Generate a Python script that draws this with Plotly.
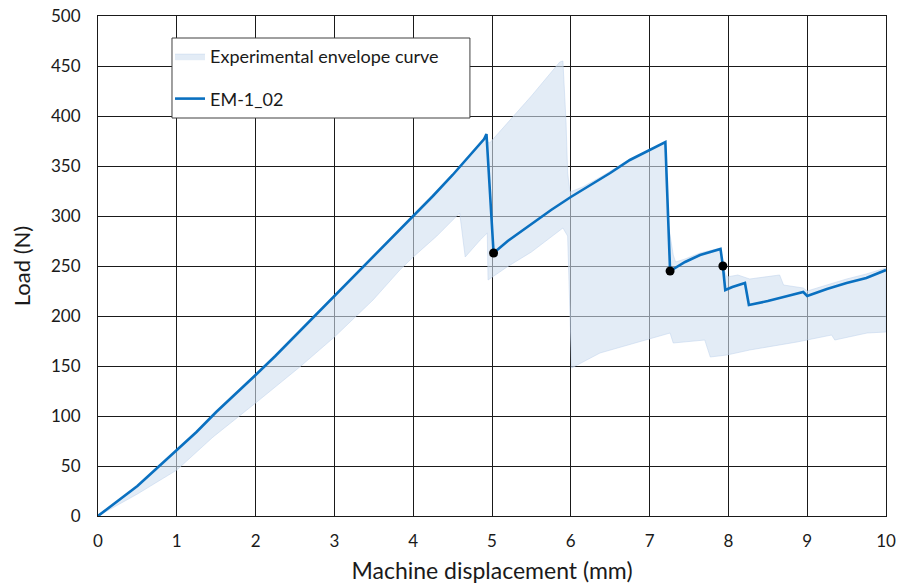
import plotly.graph_objects as go

# Main test curve EM-1_02
line_x = [0, 0.25, 0.5, 0.75, 1.0, 1.25, 1.5, 1.75, 2.0, 2.25, 2.5, 2.75, 3.0, 3.25, 3.5, 3.75,
          4.0, 4.25, 4.5, 4.75, 4.9, 4.93, 5.02, 5.2, 5.5, 5.75, 6.0, 6.25, 6.5, 6.75, 7.0, 7.2,
          7.26, 7.45, 7.64, 7.9, 7.93, 7.96, 8.05, 8.21, 8.26, 8.5, 8.75, 8.95, 9.0, 9.25, 9.5,
          9.75, 10.0]
line_y = [0, 15, 30, 48, 66, 84, 104, 122, 141, 160, 180, 200, 219, 240, 259, 280,
          300, 320, 341, 363, 377, 382, 263, 275, 292, 306, 319, 331, 343, 356, 366, 374,
          245, 254, 261, 267, 250, 226, 229, 233, 211, 215, 220, 224, 220, 227, 233,
          238, 246]

# Experimental envelope: upper bound
upper_x = [0, 0.5, 1.0, 1.5, 2.0, 2.5, 3.0, 3.5, 4.0, 4.5, 4.9, 4.97, 5.2, 5.5, 5.86, 5.9,
           5.94, 5.96, 5.99, 6.15, 6.4, 6.75, 7.2, 7.22, 7.3, 7.33, 7.45, 7.64, 7.9, 7.93,
           7.98, 8.12, 8.27, 8.65, 8.7, 8.95, 9.0, 9.25, 9.5, 9.75, 10.0]
upper_y = [0, 30, 66, 104, 141, 180, 219, 259, 300, 341, 377, 373, 393, 420, 454, 455,
           393, 343, 324, 329, 340, 357, 374, 300, 261, 254, 257, 263, 268, 250,
           239, 241, 237, 241, 231, 228, 225, 231, 237, 242, 248]

# Experimental envelope: lower bound
lower_x = [0, 0.5, 1.0, 1.46, 2.0, 2.56, 3.0, 3.49, 3.83, 4.0, 4.3, 4.59, 4.66, 4.85, 4.94,
           4.95, 5.19, 5.5, 5.9, 5.96, 6.01, 6.37, 7.0, 7.26, 7.3, 7.7, 7.77, 7.98, 8.27,
           8.87, 9.31, 9.35, 9.76, 10.0]
lower_y = [0, 22, 46, 79, 113, 149, 179, 216, 246, 259, 280, 303, 259, 276, 283,
           236, 249, 264, 288, 280, 148, 163, 177, 183, 173, 176, 159, 161, 166,
           174, 181, 176, 183, 184]

env_x = upper_x + lower_x[::-1]
env_y = upper_y + lower_y[::-1]

# Marked points
pts_x = [5.02, 7.26, 7.93]
pts_y = [263, 245, 250]

x_ticks = list(range(0, 11))
y_ticks = list(range(0, 501, 50))

FONT = "Lato, 'Open Sans', sans-serif"
TXT = "#1a1a1a"

fig = go.Figure()
fig.add_trace(go.Scatter(
    x=env_x, y=env_y, fill="toself", mode="lines",
    fillcolor="rgba(208,223,240,0.6)",
    line=dict(color="rgba(190,210,235,0.5)", width=1),
    name="Experimental envelope curve", legendgroup="a", hoverinfo="skip"))
fig.add_trace(go.Scatter(
    x=line_x, y=line_y, mode="lines",
    line=dict(color="#0A70C0", width=2.6),
    name="EM-1_02", legendgroup="b"))
fig.add_trace(go.Scatter(
    x=pts_x, y=pts_y, mode="markers",
    marker=dict(color="black", size=9),
    showlegend=False))

# legend frame
fig.add_shape(type="rect", xref="paper", yref="paper",
              x0=0.0939, x1=0.472, y0=0.796, y1=0.956,
              fillcolor="white", line=dict(color="#404040", width=1), layer="above")

fig.update_layout(
    width=899, height=585,
    margin=dict(l=98, r=13, t=16, b=69, autoexpand=False),
    plot_bgcolor="white", paper_bgcolor="white",
    font=dict(family=FONT, size=17, color=TXT),
    legend=dict(x=0.0914, y=0.956, xanchor="left", yanchor="top",
                bgcolor="rgba(0,0,0,0)", borderwidth=0,
                font=dict(family=FONT, size=18, color=TXT),
                tracegroupgap=16, itemwidth=30),
    xaxis=dict(range=[0, 10], tickvals=x_ticks, showgrid=True, automargin=False,
               gridcolor="#1a1a1a", gridwidth=1, showline=True, mirror=True,
               linecolor="#1a1a1a", linewidth=1, zeroline=False,
               ticks="outside", ticklen=10, tickcolor="rgba(0,0,0,0)",
               title=dict(text="Machine displacement (mm)",
                          font=dict(family=FONT, size=23, color=TXT),
                          standoff=12)),
    yaxis=dict(range=[0, 500], tickvals=y_ticks, showgrid=True, automargin=False,
               gridcolor="#1a1a1a", gridwidth=1, showline=True, mirror=True,
               linecolor="#1a1a1a", linewidth=1, zeroline=False,
               ticks="outside", ticklen=13, tickcolor="rgba(0,0,0,0)",
               title=dict(text="Load (N)",
                          font=dict(family=FONT, size=22, color=TXT),
                          standoff=14)),
)

fig.write_html("out.html",
               config={"displayModeBar": False},
               post_script="document.body.style.margin='0';document.body.style.overflow='hidden';")
